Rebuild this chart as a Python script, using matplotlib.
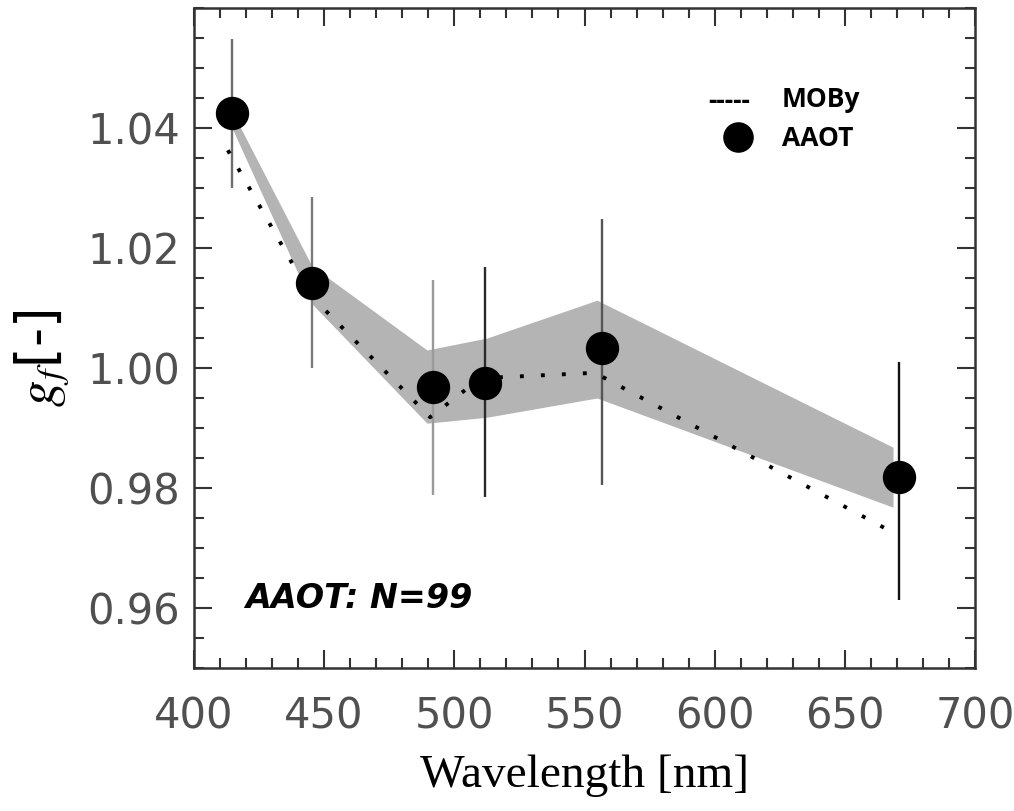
import matplotlib
matplotlib.use("Agg")
import matplotlib.pyplot as plt
from matplotlib.ticker import MultipleLocator, FormatStrFormatter

# AAOT points
aaot_wl = [414.6, 445.3, 491.8, 511.8, 556.7, 670.8]
aaot_gf = [1.0425, 1.0142, 0.9968, 0.9975, 1.0033, 0.9818]
aaot_top = [1.0548, 1.0285, 1.0147, 1.0168, 1.0248, 1.0010]
aaot_bot = [1.0300, 1.0000, 0.9788, 0.9785, 0.9805, 0.9613]
bar_colors = ["#6e6e6e", "#7a7a7a", "#9a9a9a", "#2a2a2a", "#555555", "#111111"]

# MOBy dotted curve
moby_wl = [413.0, 444.6, 490.7, 510.0, 554.0, 668.0]
moby_gf = [1.0363, 1.0122, 0.9918, 0.9983, 0.9992, 0.9727]

# shaded band
band_wl = [414.6, 445.3, 489.5, 512.6, 554.8, 668.5]
band_up = [1.0428, 1.0170, 1.0030, 1.0050, 1.0113, 0.9868]
band_lo = [1.0400, 1.0107, 0.9908, 0.9918, 0.9950, 0.9768]

xticks = [400, 450, 500, 550, 600, 650, 700]
yticks = [0.96, 0.98, 1.00, 1.02, 1.04]

plt.rcParams["mathtext.fontset"] = "stix"

fig = plt.figure(figsize=(10.14, 8.11), dpi=100)
ax = fig.add_axes([194/1014, 1-668/811, 781/1014, 660/811])

ax.fill_between(band_wl, band_lo, band_up, color="#b4b4b4", lw=0, zorder=1)

for x, t, b, c in zip(aaot_wl, aaot_top, aaot_bot, bar_colors):
    ax.vlines(x, b, t, color=c, lw=1.7, zorder=2)

ax.plot(moby_wl, moby_gf, color="black", lw=2.8, dashes=(1.0, 4.4),
        dash_capstyle="butt", zorder=3)
ax.plot(aaot_wl, aaot_gf, "o", color="black", ms=23, zorder=4, lw=0)

ax.set_xlim(400, 700)
ax.set_ylim(0.95, 1.06)
ax.set_xticks(xticks)
ax.set_yticks(yticks)
ax.xaxis.set_minor_locator(MultipleLocator(10))
ax.yaxis.set_minor_locator(MultipleLocator(0.005))
ax.yaxis.set_major_formatter(FormatStrFormatter("%.2f"))
ax.tick_params(which="both", direction="in", top=True, right=True,
               color="#333333", width=1.5)
ax.tick_params(which="major", length=13)
ax.tick_params(which="minor", length=7)
ax.tick_params(axis="x", which="major", pad=20, labelsize=30, labelcolor="#505050")
ax.tick_params(axis="y", which="major", pad=10, labelsize=30, labelcolor="#505050")
for lab in ax.get_xticklabels() + ax.get_yticklabels():
    lab.set_family("DejaVu Sans")
for s in ax.spines.values():
    s.set_linewidth(1.8)
    s.set_color("#333333")

ax.set_xlabel("Wavelength [nm]", family="Liberation Serif", fontsize=34, labelpad=12)
ax.set_ylabel(r"$\mathbf{\mathit{g}}_{\mathit{f}}$[-]", fontsize=38)
ax.yaxis.set_label_coords(-0.158, 0.47)

# legend (pasted style)
ax.text(0.685, 0.8576, "-----", transform=ax.transAxes, ha="center", va="center",
        family="Open Sans", weight="bold", fontsize=19)
ax.text(0.753, 0.861, "MOBy", transform=ax.transAxes, ha="left", va="center",
        family="Open Sans", weight="bold", fontsize=19)
ax.plot([0.6965], [0.8045], "o", color="black", ms=21, transform=ax.transAxes)
ax.text(0.753, 0.803, "AAOT", transform=ax.transAxes, ha="left", va="center",
        family="Open Sans", weight="bold", fontsize=19)

ax.text(0.0653, 0.106, "AAOT: N=99", transform=ax.transAxes, ha="left", va="center",
        family="DejaVu Sans", weight="bold", style="italic", fontsize=24)

fig.savefig("out.png", dpi=100)
